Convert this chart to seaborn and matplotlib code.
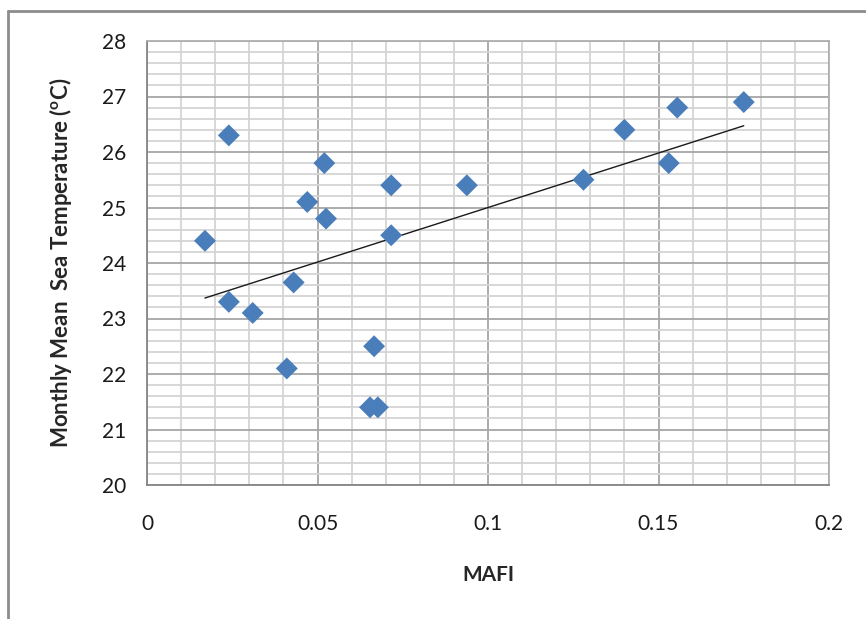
import numpy as np
import pandas as pd
import matplotlib
matplotlib.use("Agg")
import matplotlib.pyplot as plt
from matplotlib.ticker import MultipleLocator
from matplotlib.lines import Line2D
import seaborn as sns

mafi = [0.017, 0.024, 0.024, 0.031, 0.041, 0.043, 0.047, 0.052, 0.0525, 0.0666,
        0.0654, 0.0677, 0.0716, 0.0716, 0.0938, 0.128, 0.140, 0.153, 0.1555, 0.175]
sst = [24.4, 26.3, 23.3, 23.1, 22.1, 23.65, 25.1, 25.8, 24.8, 22.5,
       21.4, 21.4, 25.4, 24.5, 25.4, 25.5, 26.4, 25.8, 26.8, 26.9]
x_ticks = [0, 0.05, 0.1, 0.15, 0.2]
x_tick_labels = ["0", "0.05", "0.1", "0.15", "0.2"]
y_ticks = [20, 21, 22, 23, 24, 25, 26, 27, 28]

df = pd.DataFrame({"MAFI": mafi, "SST": sst})

sns.set_style("white")
plt.rcParams["font.family"] = ["Lato", "DejaVu Sans"]
plt.rcParams["mathtext.fontset"] = "custom"
plt.rcParams["mathtext.rm"] = "Lato:bold"
plt.rcParams["mathtext.it"] = "Lato:bold"

fig = plt.figure(figsize=(8.66, 6.19), dpi=100)
ax = fig.add_axes([147/866, 1-485/619, (829-147)/866, (485-41)/619])

ax.set_xlim(0, 0.2)
ax.set_ylim(20, 28)
ax.xaxis.set_major_locator(MultipleLocator(0.05))
ax.xaxis.set_minor_locator(MultipleLocator(0.01))
ax.yaxis.set_major_locator(MultipleLocator(1))
ax.yaxis.set_minor_locator(MultipleLocator(0.2))
ax.set_xticks(x_ticks)
ax.set_xticklabels(x_tick_labels)
ax.set_yticks(y_ticks)

ax.grid(which="minor", color="#d4d4d4", linewidth=1.3, zorder=0)
ax.grid(which="major", color="#a6a6a6", linewidth=1.3, zorder=0)
ax.set_axisbelow(True)

for s in ["top", "right"]:
    ax.spines[s].set_color("#b0b0b0")
    ax.spines[s].set_linewidth(1.3)
for s in ["left", "bottom"]:
    ax.spines[s].set_color("#868686")
    ax.spines[s].set_linewidth(1.3)

ax.tick_params(which="major", direction="out", length=8, width=1.2, color="#868686",
               labelsize=15, pad=7, labelcolor="#1a1a1a")
ax.tick_params(axis="x", which="major", pad=13)
ax.tick_params(which="minor", length=0)

sns.regplot(data=df, x="MAFI", y="SST", scatter=False, ci=None, ax=ax,
            line_kws={"color": "#1a1a1a", "linewidth": 1.0, "zorder": 2})
sns.scatterplot(data=df, x="MAFI", y="SST", marker="D", s=125, color="#4A7EBB",
                edgecolor="none", ax=ax, zorder=3)

ax.set_xlabel("MAFI", fontsize=15, fontweight="bold", labelpad=22)
ax.set_ylabel(r"Monthly Mean  Sea Temperature ($^{o}$C)", fontsize=16,
              fontweight="bold", labelpad=20)

# chart area border (top and left visible)
fig.add_artist(Line2D([8/866, 8/866], [0, 1-11/619], transform=fig.transFigure,
                      color="#8c8c8c", linewidth=2))
fig.add_artist(Line2D([8/866, 1], [1-11/619, 1-11/619], transform=fig.transFigure,
                      color="#8c8c8c", linewidth=2))

fig.savefig("out.png", dpi=100)
